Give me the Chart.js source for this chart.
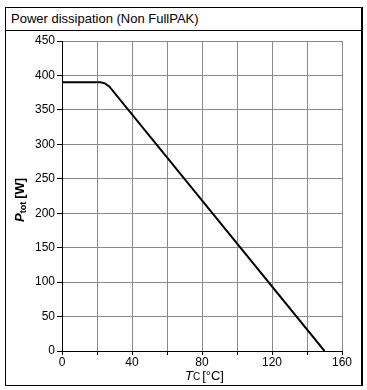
<!DOCTYPE html>
<html>
<head>
<meta charset="utf-8">
<script src="https://cdn.jsdelivr.net/npm/chart.js@4/dist/chart.umd.min.js"></script>
<style>
  body { margin: 0; background: #fff; }
  #wrap { position: relative; width: 367px; height: 390px; }
  #frame {
    position: absolute; left: 5px; top: 7px; width: 355px; height: 377px;
    border: 1px solid #000; border-right: 2px solid #000;
  }
  #title {
    position: absolute; left: 5px; top: 7px; width: 350px; height: 23px;
    border-bottom: 1px solid #000;
    font: 13px "Liberation Sans", Arial, sans-serif; line-height: 23px;
    padding-left: 6px; color: #000;
  }
  canvas { position: absolute; left: 0; top: 0; }
</style>
</head>
<body>
<div id="wrap">
  <div id="frame"></div>
  <div id="title">Power dissipation (Non FullPAK)</div>
  <canvas id="chart" width="367" height="390"></canvas>
</div>
<script>
// case temperature [°C] and total power [W]
const tempC = [0, 22, 24.5, 27, 150];
const powerW = [390, 390, 388.5, 384, 0];

const xTicks = [0, 40, 80, 120, 160];
const yTicks = [0, 50, 100, 150, 200, 250, 300, 350, 400, 450];

const font = '"Liberation Sans", Arial, sans-serif';

// axis titles with subscripts, drawn as text
const axisTitles = {
    id: 'axisTitles',
    afterDraw(chart) {
        const ctx = chart.ctx;
        const area = chart.chartArea;
        ctx.save();
        ctx.fillStyle = '#000';
        ctx.textBaseline = 'alphabetic';

        // x title: T_C [°C]
        let x = (area.left + area.right) / 2 - 17;
        let y = 380;
        ctx.font = 'italic 13px ' + font;
        ctx.fillText('T', x, y);
        x += ctx.measureText('T').width;
        ctx.font = '10px ' + font;
        ctx.fillText('C', x, y);
        x += ctx.measureText('C').width + 2;
        ctx.font = '13px ' + font;
        ctx.fillText('[°C]', x, y);

        // y title: P_tot [W]
        ctx.translate(24, (area.top + area.bottom) / 2 + 26);
        ctx.rotate(-Math.PI / 2);
        x = 0;
        ctx.font = 'italic bold 13px ' + font;
        ctx.fillText('P', x, 0);
        x += ctx.measureText('P').width;
        ctx.font = 'bold 9px ' + font;
        ctx.fillText('tot', x, 2);
        x += ctx.measureText('tot').width + 3;
        ctx.font = 'bold 13px ' + font;
        ctx.fillText('[W]', x, 0);
        ctx.restore();
    }
};

new Chart('chart', {
    type: 'line',
    data: {
        datasets: [{
            data: tempC.map((t, i) => ({ x: t, y: powerW[i] })),
            borderColor: '#000',
            borderWidth: 2,
            pointRadius: 0,
            tension: 0,
            fill: false
        }]
    },
    options: {
        responsive: false,
        animation: false,
        layout: { padding: { left: 0, right: 25, top: 41, bottom: 0 } },
        plugins: { legend: { display: false }, tooltip: { enabled: false } },
        scales: {
            x: {
                type: 'linear',
                min: 0, max: 160,
                afterFit: (s) => { s.height = 39; },
                ticks: {
                    stepSize: 20,
                    color: '#000',
                    font: { family: font, size: 12 },
                    padding: 0,
                    maxRotation: 0,
                    callback: (v) => xTicks.includes(v) ? String(v) : ''
                },
                grid: { color: '#8a8a8a', tickColor: '#000', tickLength: 4 },
                border: { color: '#000', width: 1 }
            },
            y: {
                min: 0, max: 450,
                afterFit: (s) => { s.width = 62; },
                afterBuildTicks: (s) => { s.ticks = yTicks.map(v => ({ value: v })); },
                ticks: {
                    color: '#000',
                    font: { family: font, size: 12 },
                    padding: 2
                },
                grid: { color: '#8a8a8a', tickColor: '#000', tickLength: 5 },
                border: { color: '#000', width: 1 }
            }
        }
    },
    plugins: [axisTitles]
});
</script>
</body>
</html>
